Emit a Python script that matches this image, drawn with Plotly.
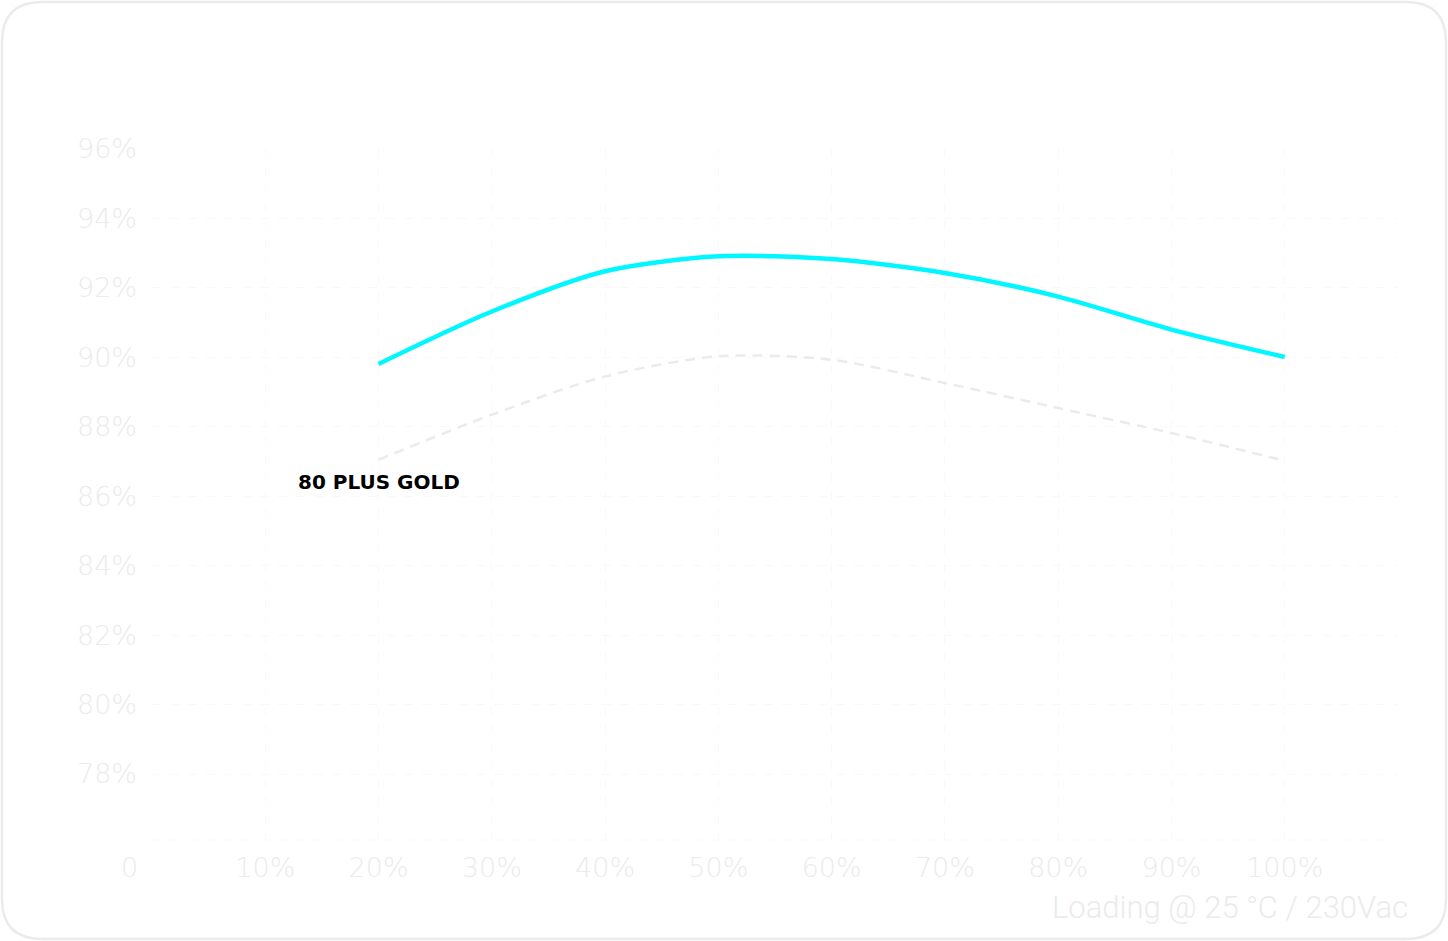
import plotly.graph_objects as go

# ---- data ----
load_pct = [20, 30, 40, 50, 60, 70, 80, 90, 100]
efficiency = [89.81, 91.32, 92.48, 92.91, 92.83, 92.43, 91.75, 90.8, 90.01]
gold_standard = [87.05, 88.35, 89.45, 90.03, 89.93, 89.26, 88.54, 87.82, 87.02]

x_tick_vals = [0, 10, 20, 30, 40, 50, 60, 70, 80, 90, 100, 110]
x_tick_text = ["", "10%", "20%", "30%", "40%", "50%", "60%", "70%", "80%", "90%", "100%", ""]
y_tick_vals = [78, 80, 82, 84, 86, 88, 90, 92, 94, 96]
y_tick_text = [f"{v}%" for v in y_tick_vals]

W, H = 1448, 941
ML, MR, MT, MB = 152, 50, 149, 101
PW, PH = W - ML - MR, H - MT - MB

def px(x):
    return (x - ML) / PW

def py(y):
    return (H - MB - y) / PH

fig = go.Figure()

fig.add_trace(go.Scatter(
    x=load_pct, y=gold_standard, mode="lines",
    line=dict(color="#ebebeb", width=2.5, dash="10px,7px", shape="spline", smoothing=0.8),
    hoverinfo="skip", showlegend=False,
))
fig.add_trace(go.Scatter(
    x=load_pct, y=efficiency, mode="lines",
    line=dict(color="#00f7ff", width=4.5, shape="spline", smoothing=0.8),
    showlegend=False,
))

label_color = "#ebebeb"
grid_color = "#f9f9f9"
tick_font = dict(family="DejaVu Sans", size=27, color=label_color, weight=200)

fig.update_xaxes(
    range=[0, 110], tickmode="array", tickvals=x_tick_vals, ticktext=x_tick_text,
    showgrid=True, gridcolor=grid_color, gridwidth=1, griddash="dash",
    zeroline=False, showline=False, ticks="", tickfont=tick_font,
    ticklabelstandoff=9,
)
fig.update_yaxes(
    range=[76.1, 96], tickmode="array", tickvals=y_tick_vals, ticktext=y_tick_text,
    showgrid=True, gridcolor=grid_color, gridwidth=1, griddash="dash",
    zeroline=False, showline=False, ticks="", tickfont=tick_font,
    ticklabelstandoff=14,
)

# bottom grid line of the plot area
fig.add_shape(type="line", xref="paper", yref="paper", x0=0, x1=1, y0=0, y1=0,
              line=dict(color=grid_color, width=1, dash="dash"))

# rounded border around whole card
r = 40
x0b, y0b, x1b, y1b = 2, 2, W - 2, H - 2
path = (
    f"M {px(x0b + r)} {py(y0b)} L {px(x1b - r)} {py(y0b)} "
    f"Q {px(x1b)} {py(y0b)} {px(x1b)} {py(y0b + r)} "
    f"L {px(x1b)} {py(y1b - r)} "
    f"Q {px(x1b)} {py(y1b)} {px(x1b - r)} {py(y1b)} "
    f"L {px(x0b + r)} {py(y1b)} "
    f"Q {px(x0b)} {py(y1b)} {px(x0b)} {py(y1b - r)} "
    f"L {px(x0b)} {py(y0b + r)} "
    f"Q {px(x0b)} {py(y0b)} {px(x0b + r)} {py(y0b)} Z"
)
fig.add_shape(type="path", xref="paper", yref="paper", path=path,
              line=dict(color="#ebebeb", width=2.5), fillcolor="rgba(0,0,0,0)")

# "0" origin label
fig.add_annotation(xref="paper", yref="paper", x=px(140), y=py(868),
                   xanchor="right", yanchor="middle", showarrow=False,
                   text="0", font=tick_font)

# axis title
fig.add_annotation(xref="paper", yref="paper", x=px(1410), y=py(908),
                   xanchor="right", yanchor="middle", showarrow=False,
                   text="Loading @ 25 °C / 230Vac",
                   font=dict(family="Roboto", size=31, color=label_color, weight=300))

# 80 PLUS GOLD label
fig.add_annotation(x=20, y=86.4, xref="x", yref="y", showarrow=False,
                   xanchor="center", yanchor="middle",
                   text="80 PLUS GOLD",
                   font=dict(family="DejaVu Sans", size=20, color="#000000", weight=700))

fig.update_layout(
    width=W, height=H,
    margin=dict(l=ML, r=MR, t=MT, b=MB),
    paper_bgcolor="#ffffff", plot_bgcolor="#ffffff",
    showlegend=False,
)

fig.write_html("out.html", config={"displayModeBar": False},
               post_script="document.body.style.margin='0';document.body.style.overflow='hidden';")
